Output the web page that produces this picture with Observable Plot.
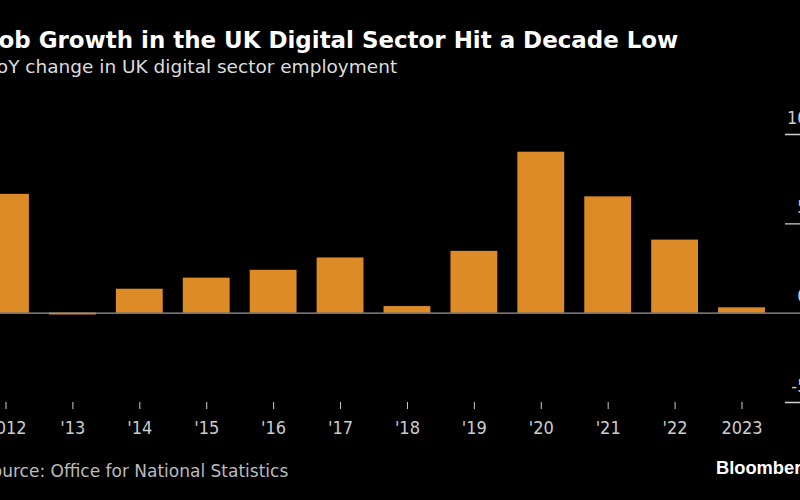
<!DOCTYPE html>
<html>
<head>
<meta charset="utf-8">
<script src="https://cdn.jsdelivr.net/npm/d3@7"></script>
<script src="https://cdn.jsdelivr.net/npm/@observablehq/plot@0.6"></script>
<style>
  html, body { margin: 0; padding: 0; background: #000; }
  #wrap { position: relative; width: 800px; height: 500px; overflow: hidden; background: #000; }
  .txt { position: absolute; white-space: nowrap; line-height: 1; }
  #title { left: -10px; top: 29px; font-family: "DejaVu Sans"; font-weight: bold; font-size: 22.95px; color: #fff; }
  #subtitle { left: -12px; top: 58px; font-family: "DejaVu Sans"; font-size: 18.5px; color: #ddd; }
  #source { left: -19px; top: 463px; font-family: "DejaVu Sans"; font-size: 17px; color: #bbb; }
  #brand { left: 716px; top: 459px; font-family: "Liberation Sans", Arial; font-weight: bold; font-size: 18.3px; color: #fff; }
  #chart { position: absolute; left: -40px; top: 90px; width: 880px; height: 350px; }
</style>
</head>
<body>
<div id="wrap">
  <div class="txt" id="title">Job Growth in the UK Digital Sector Hit a Decade Low</div>
  <div class="txt" id="subtitle">YoY change in UK digital sector employment</div>
  <div id="chart"></div>
  <div class="txt" id="source">Source: Office for National Statistics</div>
  <div class="txt" id="brand">Bloomberg</div>
</div>
<script>
const years = [2012, 2013, 2014, 2015, 2016, 2017, 2018, 2019, 2020, 2021, 2022, 2023];
const growth = [6.65, -0.1, 1.34, 1.96, 2.40, 3.09, 0.37, 3.46, 9.01, 6.51, 4.09, 0.30];
const yTicks = [-5, 0, 5, 10];

const data = years.map((year, i) => ({year, value: growth[i]}));
const fmtYear = y => (y === years[0] || y === years[years.length - 1]) ? String(y) : "'" + String(y).slice(2);
const gridTicks = yTicks.filter(d => d !== 0);

const chart = Plot.plot({
  width: 880,
  height: 350,
  marginLeft: 2,
  marginRight: 55,
  marginTop: 44,
  marginBottom: 38,
  style: {
    background: "transparent",
    color: "#ccc",
    fontFamily: "'DejaVu Sans Condensed', 'DejaVu Sans'",
    fontSize: "18px",
    overflow: "visible",
    maxWidth: "none",
    width: "880px",
    height: "350px"
  },
  x: {domain: years, padding: 0.3, round: false},
  y: {domain: [-5, 10]},
  marks: [
    Plot.barY(data, {x: "year", y: "value", fill: "#DD8B26"}),
    Plot.tickY(gridTicks, {y: d => d, stroke: "#d0d0d0", strokeWidth: 1.3, dx: 823}),
    Plot.ruleY([0], {stroke: "#9a9a9a", strokeWidth: 1.2, insetLeft: -40, insetRight: -40}),
    Plot.axisX({
      tickSize: 7,
      tickPadding: 12,
      tickFormat: fmtYear,
      stroke: "#ccc",
      fill: "#ccc",
      fontSize: 18,
      label: null
    }),
    Plot.axisY({
      anchor: "right",
      ticks: yTicks,
      tickSize: 0,
      tickPadding: 22,
      textAnchor: "end",
      dy: -16.5,
      tickFormat: d => String(d),
      fill: "#ccc",
      fontSize: 18,
      label: null
    })
  ]
});
document.getElementById("chart").appendChild(chart);
</script>
</body>
</html>
